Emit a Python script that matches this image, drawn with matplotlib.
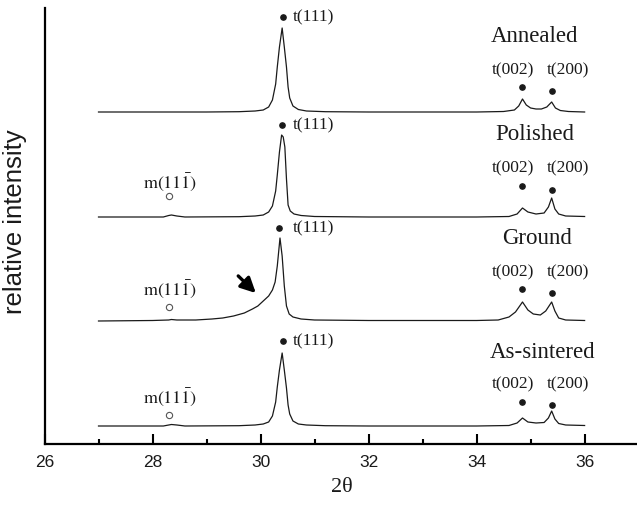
import matplotlib
matplotlib.use('Agg')
import matplotlib.pyplot as plt
import numpy as np

plt.rcParams['mathtext.fontset'] = 'stix'

# XRD patterns: 2theta and intensity above each baseline
annealed_x = [27.0, 28.0, 29.0, 29.6, 29.9, 30.05, 30.15, 30.22, 30.28, 30.31, 30.35, 30.40,
              30.44, 30.48, 30.51, 30.54, 30.60, 30.70, 30.85, 31.2, 32.0, 33.0, 34.0, 34.5,
              34.7, 34.78, 34.85, 34.92, 35.0, 35.1, 35.2, 35.3, 35.39, 35.46, 35.55, 35.7, 36.0]
annealed_y = [0, 0, 0, 0.3, 1, 2, 5, 12, 28, 45, 65, 84,
              65, 45, 25, 14, 6, 2.5, 1, 0.3, 0, 0, 0, 0.5,
              2, 6, 13, 7, 4, 3, 3, 5, 10, 4, 1.5, 0.5, 0]

polished_x = [27.0, 28.0, 28.2, 28.3, 28.35, 28.45, 28.6, 29.6, 29.9, 30.05, 30.15, 30.22,
              30.28, 30.31, 30.35, 30.39, 30.42, 30.45, 30.48, 30.51, 30.55, 30.62, 30.75,
              31.0, 32.0, 33.0, 34.0, 34.6, 34.75, 34.85, 34.95, 35.1, 35.25, 35.33, 35.39,
              35.45, 35.52, 35.65, 36.0]
polished_y = [0, 0, 0, 1.5, 2, 1, 0, 0.3, 1, 2, 5, 11,
              26, 42, 65, 82, 80, 70, 38, 12, 6, 3, 1.5,
              0.5, 0, 0, 0, 0.5, 3, 9, 5, 3, 4, 10, 19,
              8, 3, 1, 0.5]

ground_x = [27.0, 28.0, 28.3, 28.35, 28.45, 28.8, 29.1, 29.3, 29.5, 29.7, 29.85, 29.95,
            30.05, 30.15, 30.22, 30.27, 30.31, 30.36, 30.40, 30.44, 30.48, 30.53, 30.6,
            30.75, 31.0, 32.0, 33.0, 34.0, 34.4, 34.6, 34.72, 34.85, 34.95, 35.05, 35.18,
            35.28, 35.39, 35.45, 35.52, 35.65, 36.0]
ground_y = [0, 0.5, 1, 1.5, 1, 1, 2, 3, 5, 8, 12, 15,
            20, 25, 31, 39, 55, 83, 65, 35, 15, 7, 4,
            2, 1, 0.5, 0.5, 0.5, 1, 4, 9, 19, 11, 7, 6,
            10, 19, 10, 3, 1, 0.5]

sintered_x = [27.0, 28.0, 28.2, 28.3, 28.35, 28.45, 28.6, 29.6, 29.9, 30.05, 30.15, 30.22,
              30.28, 30.31, 30.35, 30.40, 30.44, 30.48, 30.51, 30.54, 30.60, 30.70, 30.85,
              31.2, 32.0, 33.0, 34.0, 34.6, 34.75, 34.85, 34.95, 35.1, 35.25, 35.33, 35.39,
              35.45, 35.52, 35.65, 36.0]
sintered_y = [0, 0, 0, 1, 1.5, 1, 0, 0.3, 1, 2, 4, 10,
              24, 39, 56, 73, 56, 38, 21, 12, 5, 2, 1,
              0.3, 0, 0, 0, 0.5, 3, 8, 4, 3, 3.5, 8, 15,
              7, 2.5, 1, 0.5]

names = ['Annealed', 'Polished', 'Ground', 'As-sintered']
offsets = [332, 227, 123, 18]

fig = plt.figure(figsize=(6.37, 5.11), dpi=100)
ax = fig.add_axes([44.5/637, 67/511, 592.5/637, 436/511])

serif = 'Liberation Serif'
sans = 'Liberation Sans'
ink = '#1a1a1a'

curves = [(annealed_x, annealed_y), (polished_x, polished_y),
          (ground_x, ground_y), (sintered_x, sintered_y)]
for (cx, cy), off in zip(curves, offsets):
    ax.plot(cx, np.array(cy) + off, color=ink, lw=0.9)

# sample names
name_pos = [(35.08, 407), (35.08, 309), (35.12, 206), (35.23, 92)]
for n, (tx, ty) in zip(names, name_pos):
    ax.text(tx, ty, n, family=serif, fontsize=16.5, ha='center', va='center', color=ink)

# t(002), t(200) labels and dots
lab_y = [374, 276, 172, 60]
dot_y = [(357, 353), (258, 254), (155, 151), (42, 39)]
for ly, (d1, d2) in zip(lab_y, dot_y):
    ax.text(34.68, ly, 't(002)', family=serif, fontsize=12.5, ha='center', va='center', color=ink)
    ax.text(35.69, ly, 't(200)', family=serif, fontsize=12.5, ha='center', va='center', color=ink)
    ax.plot([34.85, 35.39], [d1, d2], 'o', color=ink, ms=3.8)

# t(111) labels
t111 = [(30.42, 427), (30.40, 319), (30.34, 216), (30.42, 103)]
for dx, dy in t111:
    ax.plot(dx, dy, 'o', color=ink, ms=3.8)
    ax.text(30.60, dy, 't(111)', family=serif, fontsize=12.5, ha='left', va='center', color=ink)

# m(11-1) labels
m_lab = [262, 155, 47]
m_circ = [248, 137, 29]
for ly, cy in zip(m_lab, m_circ):
    ax.text(28.32, ly, r'$\mathrm{m(11\bar{1})}$', fontsize=13,
            ha='center', va='center', color=ink)
    ax.plot(28.30, cy, 'o', mfc='white', mec='#555555', ms=4.5, mew=0.8)

ax.annotate('', xy=(29.95, 149), xytext=(29.55, 170),
            arrowprops=dict(arrowstyle='-|>,head_length=0.9,head_width=0.45',
                            color='black', lw=2.4))

ax.set_xlim(26, 36.97)
ax.set_ylim(0, 436)
ax.spines['top'].set_visible(False)
ax.spines['right'].set_visible(False)
ax.spines['left'].set_linewidth(1.6)
ax.spines['bottom'].set_linewidth(1.6)
ax.set_yticks([])
ax.set_xticks([26, 28, 30, 32, 34, 36])
ax.set_xticks([27, 29, 31, 33, 35], minor=True)
ax.tick_params(axis='x', which='major', direction='in', length=7, width=1.5, pad=8,
               labelsize=12.5, labelcolor=ink)
ax.tick_params(axis='x', which='minor', direction='in', length=3.5, width=1.5)
for lab in ax.get_xticklabels():
    lab.set_family(sans)

fig.text(342/637, 1 - 488/511, '2θ', family=serif, fontsize=16, ha='center', va='center', color=ink)
fig.text(15/637, 1 - 222/511, 'relative intensity', family=sans, fontsize=18.5,
         rotation=90, ha='center', va='center', color=ink)

fig.savefig('out.png', dpi=100)
